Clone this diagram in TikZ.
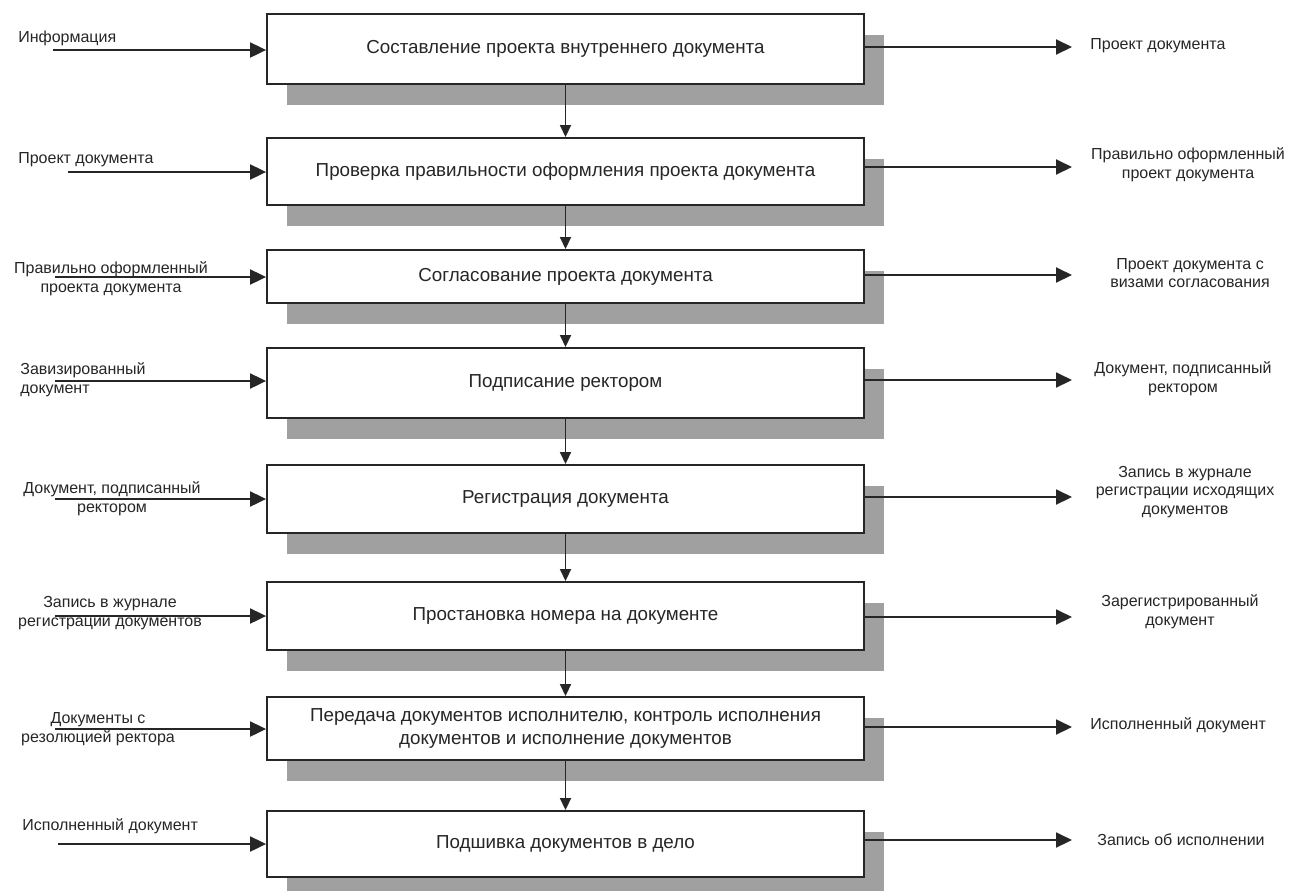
\documentclass[tikz,border=0pt]{standalone}
\usepackage{fontspec}
\setmainfont{Liberation Sans}
\usetikzlibrary{arrows.meta,shadows,positioning}

\definecolor{shade}{RGB}{160,160,160}
\definecolor{ink}{RGB}{38,38,38}

\begin{document}
\begin{tikzpicture}[x=0.02cm,y=-0.02cm,
  proc/.style={draw=ink,line width=1.1pt,fill=white,minimum width=11.94cm,inner sep=2pt,
    align=center,text=ink,font=\fontsize{10.7}{12.6}\selectfont,
    drop shadow={shadow xshift=0.4cm,shadow yshift=-0.42cm,fill=shade,opacity=1}},
  lbl/.style={align=center,text=ink,inner sep=0pt,font=\fontsize{9.1}{10.6}\selectfont},
  flow/.style={draw=ink,line width=1.1pt,-{Triangle[length=0.32cm,width=0.3cm]}},
  down/.style={draw=ink,line width=1pt,-{Triangle[length=0.24cm,width=0.22cm]}}]
\useasboundingbox (0,0) rectangle (1290,890);

% processes
\node[proc,minimum height=1.4cm]  (p1) at (565.5,49)   {Составление проекта внутреннего документа};
\node[proc,minimum height=1.34cm] (p2) at (565.5,171.5) {Проверка правильности оформления проекта документа};
\node[proc,minimum height=1.06cm] (p3) at (565.5,276.5) {Согласование проекта документа};
\node[proc,minimum height=1.4cm]  (p4) at (565.5,383)   {Подписание ректором};
\node[proc,minimum height=1.36cm] (p5) at (565.5,499)   {Регистрация документа};
\node[proc,minimum height=1.36cm] (p6) at (565.5,616)   {Простановка номера на документе};
\node[proc,minimum height=1.26cm] (p7) at (565.5,728.5) {Передача документов исполнителю, контроль исполнения\\документов и исполнение документов};
\node[proc,minimum height=1.32cm] (p8) at (565.5,844)   {Подшивка документов в дело};

\foreach \a/\b in {p1/p2,p2/p3,p3/p4,p4/p5,p5/p6,p6/p7,p7/p8}
  \draw[down] (\a.south) -- (\b.north);

% inputs
\node[lbl,anchor=west] (li1) at (18,38)  {Информация};
\node[lbl,anchor=west] (li2) at (18,160) {Проект документа};
\node[lbl] (li3) at (111,279) {Правильно оформленный\\проекта документа};
\node[lbl,anchor=west,align=left] (li4) at (20,380) {Завизированный\\документ};
\node[lbl] (li5) at (112,499) {Документ, подписанный\\ректором};
\node[lbl] (li6) at (110,613) {Запись в журнале\\регистрации документов};
\node[lbl] (li7) at (98,729)  {Документы с\\резолюцией ректора};
\node[lbl,anchor=west] (li8) at (22,826) {Исполненный документ};

\coordinate (in1) at (53,50);
\coordinate (in2) at (68,172);
\coordinate (in3) at (55,277);
\coordinate (in4) at (55,381);
\coordinate (in5) at (55,499);
\coordinate (in6) at (55,616);
\coordinate (in7) at (55,729);
\coordinate (in8) at (58,844);
\foreach \i in {1,...,8}
  \draw[flow] (in\i) -- (in\i -| p\i.west);

% outputs
\coordinate (out1) at (1072,47);
\coordinate (out2) at (1072,167);
\coordinate (out3) at (1072,275);
\coordinate (out4) at (1072,380);
\coordinate (out5) at (1072,497);
\coordinate (out6) at (1072,617);
\coordinate (out7) at (1072,727);
\coordinate (out8) at (1072,840);
\foreach \i in {1,...,8}
  \draw[flow] (out\i -| p\i.east) -- (out\i);

\node[lbl,anchor=west] (lo1) at (1090,46) {Проект документа};
\node[lbl] (lo2) at (1188,165) {Правильно оформленный\\проект документа};
\node[lbl] (lo3) at (1190,273) {Проект документа с\\визами согласования};
\node[lbl] (lo4) at (1183,379) {Документ, подписанный\\ректором};
\node[lbl] (lo5) at (1185,492) {Запись в журнале\\регистрации исходящих\\документов};
\node[lbl] (lo6) at (1180,612) {Зарегистрированный\\документ};
\node[lbl,anchor=west] (lo7) at (1090,725) {Исполненный документ};
\node[lbl,anchor=west] (lo8) at (1097,840) {Запись об исполнении};
\end{tikzpicture}
\end{document}
